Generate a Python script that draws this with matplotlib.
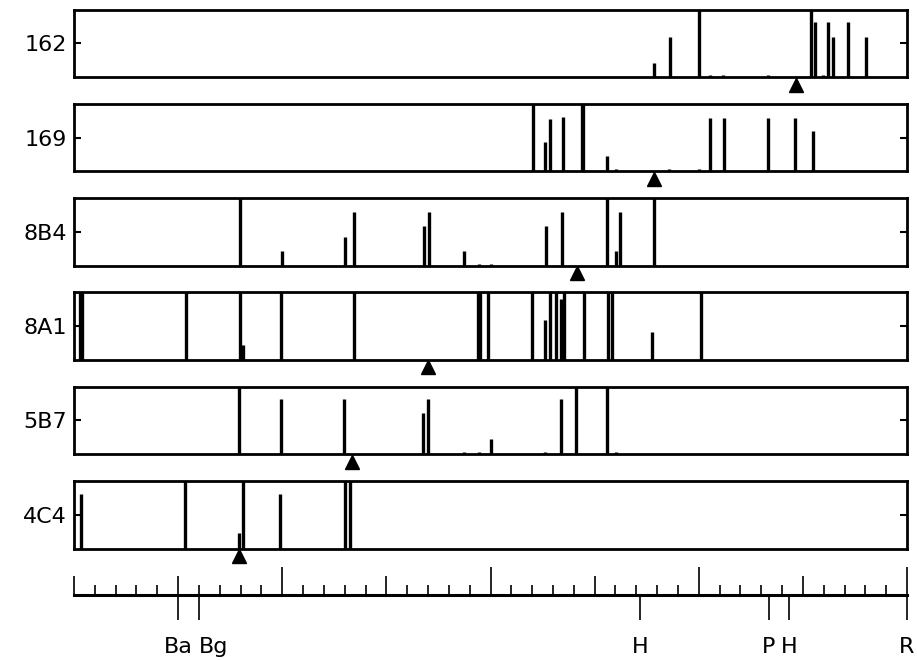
import matplotlib
matplotlib.use("Agg")
import matplotlib.pyplot as plt

# ---------------- data (x in ruler units 0..40, heights as fraction of panel) ----------------
panel_names = ["162", "169", "8B4", "8A1", "5B7", "4C4"]

x_162 = [27.85, 28.62, 30.01, 30.53, 31.15, 33.32, 35.40, 35.60, 35.96, 36.20, 36.44, 37.15, 38.03]
h_162 = [0.21, 0.60, 1.00, 0.03, 0.03, 0.03, 1.00, 0.82, 0.03, 0.81, 0.60, 0.81, 0.59]
tri_162 = 34.66

x_169 = [22.03, 22.64, 22.88, 23.46, 24.38, 24.46, 25.61, 26.01, 28.56, 30.00, 30.53, 31.19, 33.32, 34.62, 35.48]
h_169 = [1.00, 0.43, 0.77, 0.80, 1.00, 1.00, 0.22, 0.04, 0.03, 0.03, 0.79, 0.79, 0.79, 0.79, 0.59]
tri_169 = 27.84

x_8B4 = [7.95, 9.99, 13.00, 13.43, 16.79, 17.03, 18.72, 19.47, 20.00, 22.68, 23.45, 25.61, 26.01, 26.20, 27.85]
h_8B4 = [1.00, 0.21, 0.42, 0.80, 0.59, 0.80, 0.21, 0.03, 0.03, 0.59, 0.80, 1.00, 0.21, 0.80, 1.00]
tri_8B4 = 24.17

x_8A1 = [0.30, 0.40, 5.38, 7.98, 8.13, 9.95, 13.43, 19.40, 19.48, 19.86, 22.00, 22.64, 22.88, 23.13,
         23.37, 23.51, 24.50, 25.63, 25.82, 27.77, 30.10]
h_8A1 = [1.00, 1.00, 1.00, 1.00, 0.22, 1.00, 1.00, 1.00, 1.00, 1.00, 1.00, 0.59, 1.00, 1.00,
         0.90, 1.00, 1.00, 1.00, 1.00, 0.42, 1.00]
tri_8A1 = 17.02

x_5B7 = [7.93, 9.94, 12.95, 16.76, 17.00, 18.72, 19.44, 20.00, 22.64, 23.37, 24.12, 25.61, 26.01]
h_5B7 = [1.00, 0.82, 0.82, 0.61, 0.82, 0.03, 0.03, 0.22, 0.03, 0.82, 1.00, 1.00, 0.03]
tri_5B7 = 13.35

x_4C4 = [0.34, 5.34, 7.90, 8.11, 9.90, 13.01, 13.27]
h_4C4 = [0.81, 1.00, 0.23, 1.00, 0.81, 1.00, 1.00]
tri_4C4 = 7.90

ruler_major = [10, 20, 30, 40]
ruler_medium = [0, 5, 15, 25, 35]
ruler_minor = [v for v in range(0, 41) if v % 5 != 0]
marker_pos = [5.0, 6.0, 27.2, 33.37, 34.35, 40.0]
marker_labels = ["Ba", "Bg", "H", "P", "H", "R"]

panels = [
    (panel_names[0], x_162, h_162, tri_162),
    (panel_names[1], x_169, h_169, tri_169),
    (panel_names[2], x_8B4, h_8B4, tri_8B4),
    (panel_names[3], x_8A1, h_8A1, tri_8A1),
    (panel_names[4], x_5B7, h_5B7, tri_5B7),
    (panel_names[5], x_4C4, h_4C4, tri_4C4),
]

# ---------------- layout ----------------
W, H = 917, 660
fig = plt.figure(figsize=(W / 100, H / 100), dpi=100)
fig.patch.set_facecolor("white")


def px_axes(x0, y0, x1, y1):
    return fig.add_axes([x0 / W, 1 - y1 / H, (x1 - x0) / W, (y1 - y0) / H])


X0, X1 = 74, 907
PH = 67.5
for i, (name, xs, hs, tri) in enumerate(panels):
    top = 9.5 + 94.3 * i
    ax = px_axes(X0, top, X1, top + PH)
    ax.set_xlim(0, 40)
    ax.set_ylim(0, 1)
    ax.vlines(xs, 0, hs, colors="black", linewidth=2.4)
    ax.plot([tri], [-7.5 / PH], marker="^", markersize=10, color="black",
            linestyle="none", clip_on=False)
    for s in ax.spines.values():
        s.set_linewidth(2.0)
    ax.set_xticks([])
    ax.set_yticks([0.5])
    ax.set_yticklabels([name])
    ax.tick_params(axis="y", direction="in", length=5, width=1.5,
                   left=True, right=True, labelsize=16, pad=5)

# ---------------- ruler ----------------
axb = px_axes(X0, 555, X1, 595)
axb.set_xlim(0, 40)
axb.set_ylim(0, 1)
axb.patch.set_alpha(0)
for s in ["top", "left", "right"]:
    axb.spines[s].set_visible(False)
axb.spines["bottom"].set_linewidth(2.2)
axb.set_yticks([])
axb.set_xticks(ruler_major)
axb.set_xticks(ruler_minor, minor=True)
axb.tick_params(axis="x", which="major", direction="in", length=20, width=1.2,
                labelbottom=False)
axb.tick_params(axis="x", which="minor", direction="in", length=7, width=1.2,
                labelbottom=False)

sec = axb.secondary_xaxis(0)
sec.set_xticks(ruler_medium)
sec.tick_params(direction="in", length=13.5, width=1.2, labelbottom=False)
sec.spines["bottom"].set_visible(False)

sec2 = axb.secondary_xaxis(0)
sec2.set_xticks(marker_pos, marker_labels)
sec2.tick_params(direction="out", length=18, width=1.2, labelsize=16, pad=12)
sec2.spines["bottom"].set_visible(False)
labs = sec2.get_xticklabels()
labs[1].set_horizontalalignment("left")

fig.savefig("out.png", dpi=100, facecolor="white")
